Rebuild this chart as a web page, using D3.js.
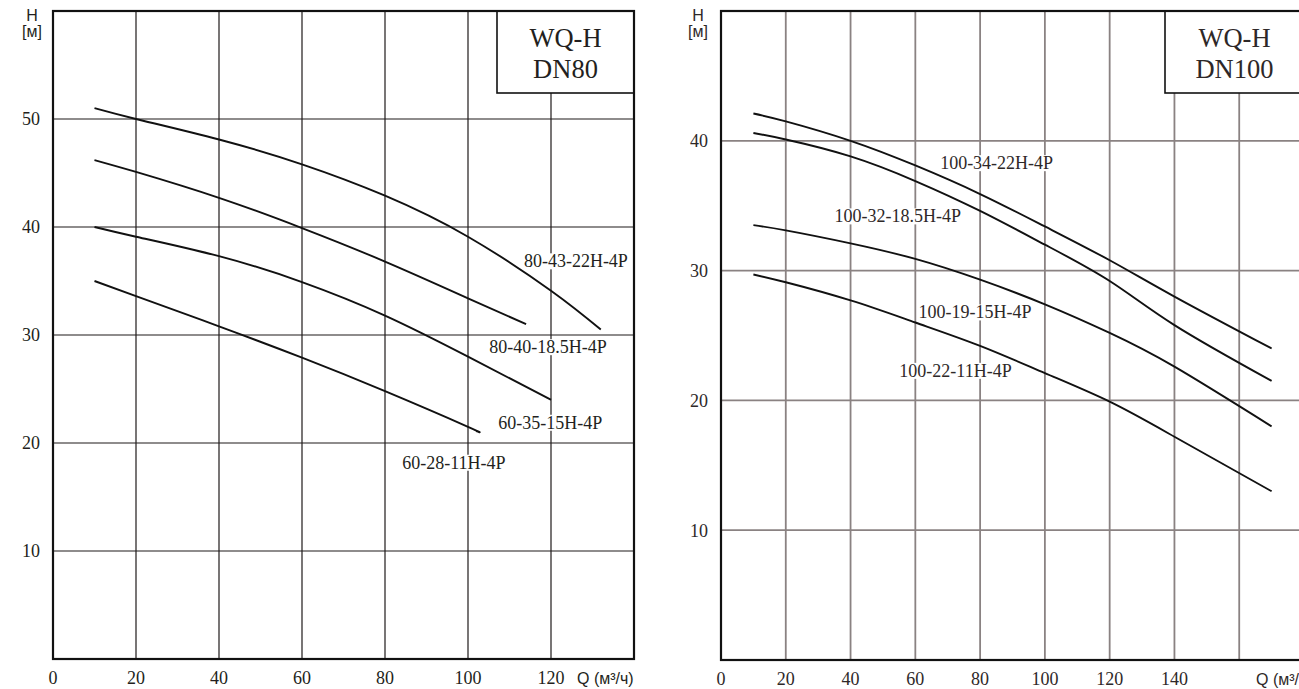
<!DOCTYPE html>
<html>
<head>
<meta charset="utf-8">
<script src="https://cdn.jsdelivr.net/npm/d3@7"></script>
<style>
  html, body { margin: 0; padding: 0; background: #fff; overflow: hidden; }
  svg { display: block; }
</style>
</head>
<body>
<svg id="chart" width="1299" height="689"></svg>
<script>
// ---------- DATA ----------
// Chart 1: WQ-H DN80
const dn80Title = ["WQ-H", "DN80"];
const dn80QTicks = [0, 20, 40, 60, 80, 100, 120];
const dn80HTicks = [10, 20, 30, 40, 50];
const dn80Names = ["80-43-22H-4P", "80-40-18.5H-4P", "60-35-15H-4P", "60-28-11H-4P"];
const dn80Q = [
  [10, 20, 40, 60, 80, 100, 120, 132],
  [10, 20, 40, 60, 80, 100, 114],
  [10, 20, 40, 60, 80, 100, 120],
  [10, 20, 40, 60, 80, 100, 102]
];
const dn80H = [
  [51.0, 50.0, 48.1, 45.8, 42.9, 39.1, 34.1, 30.5],
  [46.2, 45.1, 42.7, 39.9, 36.8, 33.4, 31.0],
  [40.0, 39.1, 37.3, 34.9, 31.8, 28.0, 24.0],
  [35.0, 33.6, 30.8, 27.9, 24.8, 21.5, 21.1]
];
const dn80LabelQ = [126.0, 119.3, 119.8, 96.6];
const dn80LabelH = [36.85, 28.9, 21.9, 18.2];

// Chart 2: WQ-H DN100
const dn100Title = ["WQ-H", "DN100"];
const dn100QTicks = [0, 20, 40, 60, 80, 100, 120, 140];
const dn100HTicks = [10, 20, 30, 40];
const dn100Names = ["100-34-22H-4P", "100-32-18.5H-4P", "100-19-15H-4P", "100-22-11H-4P"];
const dn100Q = [
  [10, 20, 40, 60, 80, 100, 120, 140, 170],
  [10, 20, 40, 60, 80, 100, 120, 140, 170],
  [10, 20, 40, 60, 80, 100, 120, 140, 170],
  [10, 20, 40, 60, 80, 100, 120, 140, 170]
];
const dn100H = [
  [42.1, 41.5, 40.0, 38.1, 35.9, 33.4, 30.8, 28.0, 24.0],
  [40.6, 40.1, 38.8, 36.9, 34.6, 32.0, 29.2, 25.8, 21.5],
  [33.5, 33.1, 32.1, 30.9, 29.3, 27.4, 25.2, 22.6, 18.0],
  [29.7, 29.1, 27.7, 26.0, 24.2, 22.1, 19.9, 17.2, 13.0]
];
const dn100LabelQ = [85.1, 54.6, 78.4, 72.4];
const dn100LabelH = [38.3, 34.2, 26.8, 22.3];

const yAxisTitle = ["H", "[м]"];
const xAxisTitle = "Q (м³/ч)";

// ---------- DRAWING ----------
const svg = d3.select("#chart");
const serif = "'Liberation Serif', 'Times New Roman', serif";
const sans = "'Liberation Sans', Arial, sans-serif";

function drawChart(opt) {
  const g = svg.append("g");
  const x = d3.scaleLinear().domain(opt.xDomain).range([opt.left, opt.right]);
  const y = d3.scaleLinear().domain(opt.yDomain).range([opt.bottom, opt.top]);

  // vertical gridlines
  g.append("g").selectAll("line").data(opt.qGrid).join("line")
    .attr("x1", d => x(d)).attr("x2", d => x(d))
    .attr("y1", y(opt.yDomain[0])).attr("y2", y(opt.yDomain[1]))
    .attr("stroke", opt.gridColor).attr("stroke-width", opt.gridWidth);
  // horizontal gridlines
  g.append("g").selectAll("line").data(opt.hTicks).join("line")
    .attr("x1", x(opt.xDomain[0])).attr("x2", x(opt.xDomain[1]))
    .attr("y1", d => y(d)).attr("y2", d => y(d))
    .attr("stroke", opt.gridColor).attr("stroke-width", opt.gridWidth);

  // curves
  const line = d3.line().x(d => x(d[0])).y(d => y(d[1])).curve(d3.curveNatural);
  opt.names.forEach((name, i) => {
    const pts = opt.q[i].map((q, j) => [q, opt.h[i][j]]);
    g.append("path").attr("d", line(pts))
      .attr("fill", "none").attr("stroke", "#111")
      .attr("stroke-width", 1.9);
  });

  // curve labels with white background
  opt.names.forEach((name, i) => {
    const lg = g.append("g");
    const t = lg.append("text")
      .attr("x", x(opt.labelQ[i])).attr("y", y(opt.labelH[i]))
      .attr("dy", "0.35em").attr("text-anchor", "middle")
      .attr("font-family", serif).attr("font-size", 18)
      .attr("fill", opt.textColor).text(name);
    const bb = t.node().getBBox();
    lg.insert("rect", "text")
      .attr("x", bb.x - 1).attr("y", bb.y + 2)
      .attr("width", bb.width + 2).attr("height", bb.height - 4)
      .attr("fill", "#fff");
  });

  // title box
  g.append("rect")
    .attr("x", opt.boxLeft).attr("y", y(opt.yDomain[1]))
    .attr("width", x(opt.xDomain[1]) - opt.boxLeft).attr("height", opt.boxBottom - y(opt.yDomain[1]))
    .attr("fill", "#fff").attr("stroke", "#111").attr("stroke-width", 1.6);
  const boxCx = (opt.boxLeft + x(opt.xDomain[1])) / 2;
  opt.title.forEach((t, i) => {
    g.append("text").attr("x", boxCx).attr("y", 47 + i * 31)
      .attr("text-anchor", "middle").attr("font-family", serif)
      .attr("font-size", 26.5).attr("fill", opt.textColor).text(t);
  });

  // frame
  g.append("rect")
    .attr("x", x(opt.xDomain[0])).attr("y", y(opt.yDomain[1]))
    .attr("width", x(opt.xDomain[1]) - x(opt.xDomain[0]))
    .attr("height", y(opt.yDomain[0]) - y(opt.yDomain[1]))
    .attr("fill", "none").attr("stroke", "#111").attr("stroke-width", 2.2);

  // x tick labels
  g.append("g").selectAll("text").data(opt.qTicks).join("text")
    .attr("x", d => x(d)).attr("y", opt.bottom + 25)
    .attr("text-anchor", "middle").attr("font-family", serif)
    .attr("font-size", 18).attr("fill", opt.textColor).text(d => d);
  // y tick labels
  g.append("g").selectAll("text").data(opt.hTicks).join("text")
    .attr("x", x(opt.xDomain[0]) - 13).attr("y", d => y(d)).attr("dy", "0.35em")
    .attr("text-anchor", "end").attr("font-family", serif)
    .attr("font-size", 18).attr("fill", opt.textColor).text(d => d);

  // axis titles
  g.append("text").attr("x", opt.hTitleX).attr("y", 21).attr("text-anchor", "middle")
    .attr("font-family", sans).attr("font-size", 16).attr("fill", opt.textColor).text(yAxisTitle[0]);
  g.append("text").attr("x", opt.hTitleX).attr("y", 37).attr("text-anchor", "middle")
    .attr("font-family", sans).attr("font-size", 16).attr("fill", opt.textColor).text(yAxisTitle[1]);
  g.append("text").attr("x", opt.qTitleX).attr("y", opt.bottom + 25)
    .attr("font-family", sans).attr("font-size", 16).attr("fill", opt.textColor).text(xAxisTitle);
}

drawChart({
  left: 53, right: 634, top: 11, bottom: 659,
  xDomain: [0, 140], yDomain: [0, 60],
  qTicks: dn80QTicks, qGrid: dn80QTicks.slice(1), hTicks: dn80HTicks,
  names: dn80Names, q: dn80Q, h: dn80H, labelQ: dn80LabelQ, labelH: dn80LabelH,
  title: dn80Title, boxLeft: 497, boxBottom: 93,
  gridColor: "#1e1a1a", gridWidth: 1.2, textColor: "#231f20",
  hTitleX: 32, qTitleX: 577
});

drawChart({
  left: 721, right: 1304, top: 11, bottom: 660,
  xDomain: [0, 180], yDomain: [0, 50],
  qTicks: dn100QTicks, qGrid: dn100QTicks.slice(1).concat([160]), hTicks: dn100HTicks,
  names: dn100Names, q: dn100Q, h: dn100H, labelQ: dn100LabelQ, labelH: dn100LabelH,
  title: dn100Title, boxLeft: 1165, boxBottom: 93,
  gridColor: "#8a8282", gridWidth: 1.8, textColor: "#2e2828",
  hTitleX: 698, qTitleX: 1256
});
</script>
</body>
</html>
